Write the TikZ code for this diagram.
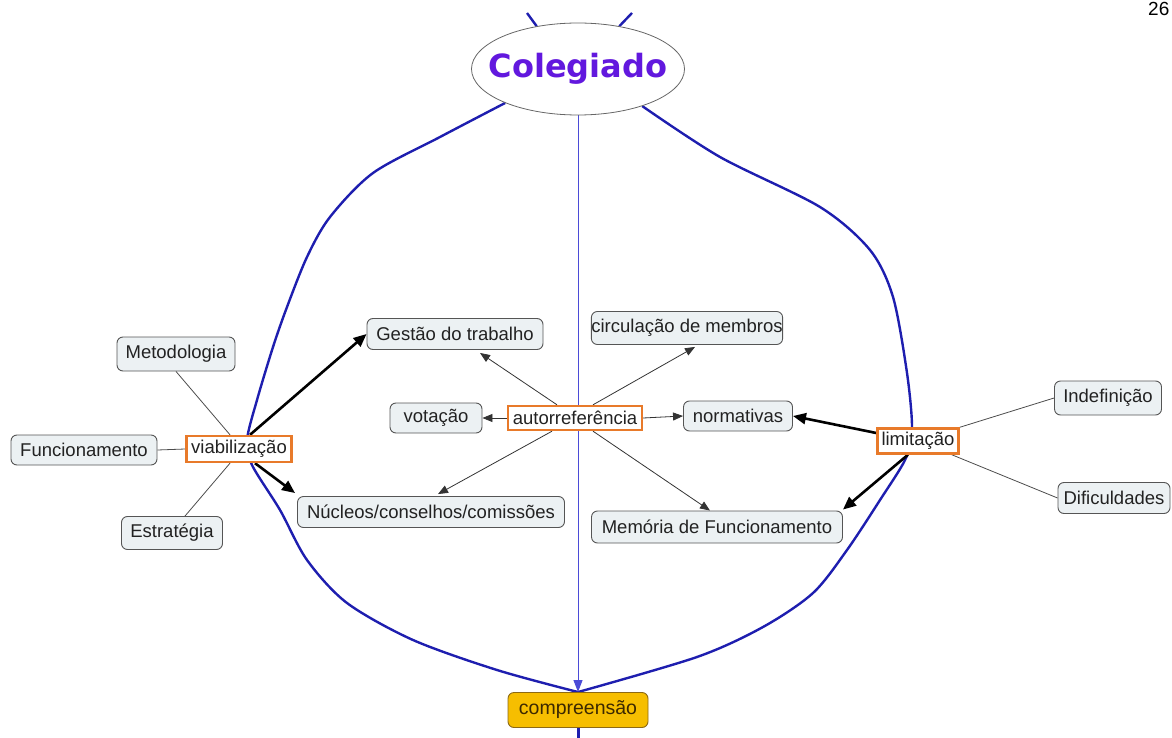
\documentclass[tikz,border=0pt]{standalone}
\usepackage{fontspec}
\setmainfont{Liberation Sans}
\newfontfamily\titlefont{DejaVu Sans}
\usetikzlibrary{arrows.meta,calc,shapes.geometric,backgrounds}

\definecolor{curveblue}{RGB}{30,30,175}
\definecolor{axisblue}{RGB}{75,75,215}
\definecolor{conceptfill}{RGB}{236,241,243}
\definecolor{conceptline}{RGB}{85,85,85}
\definecolor{linkorange}{RGB}{232,122,42}
\definecolor{goldfill}{RGB}{246,190,0}
\definecolor{goldline}{RGB}{140,105,20}
\definecolor{goldtext}{RGB}{60,40,0}
\definecolor{titleviolet}{RGB}{98,24,222}
\definecolor{textdark}{RGB}{34,34,34}

\begin{document}
\begin{tikzpicture}[x=1pt,y=-1pt,
  every node/.style={font=\fontsize{18.5}{22}\selectfont, text=textdark, inner sep=0pt},
  concept/.style={draw=conceptline, fill=conceptfill, line width=0.9pt, rounded corners=6pt},
  linker/.style={draw=linkorange, fill=white, line width=2.4pt},
  plain/.style={draw=black!70, line width=0.8pt},
  thinarrow/.style={draw=black!80, line width=0.8pt, -{Triangle[length=10pt,width=8pt]}},
  boldarrow/.style={draw=black, line width=2.6pt, -{Triangle[length=13pt,width=11pt]}},
  spine/.style={draw=curveblue, line width=2.4pt},
  ]
\useasboundingbox (0,0) rectangle (1172,738);
\clip (0,0) rectangle (1172,738);

% central concept and target
\node[ellipse, draw=black!60, fill=white, line width=0.8pt,
      inner xsep=-15pt, inner ysep=0pt,
      minimum width=213pt, minimum height=92pt,
      font=\titlefont\bfseries\fontsize{32}{36}\selectfont, text=titleviolet]
      (col) at (578,69) {Colegiado};
\node[draw=goldline, fill=goldfill, rounded corners=6pt, line width=0.9pt,
      minimum width=140pt, minimum height=35pt,
      font=\fontsize{19.5}{22}\selectfont, text=goldtext]
      (cmp) at (578,710) {compreensão};

% page number
\node[anchor=base west, font=\fontsize{19}{22}\selectfont, text=black] (pg) at (1148,16) {26};

% linking phrases
\node[linker, minimum width=105pt, minimum height=26pt] (viab) at (239,449) {viabilização};
\node[linker, minimum width=134pt, minimum height=24pt] (auto) at (575,418) {autorreferência};
\node[linker, minimum width=81pt, minimum height=25pt] (lim) at (918,441) {limitação};

% concepts
\node[concept, minimum width=118pt, minimum height=34pt] (met) at (176,354) {Metodologia};
\node[concept, minimum width=146pt, minimum height=30pt] (fun) at (84,450) {Funcionamento};
\node[concept, minimum width=101pt, minimum height=33pt] (est) at (172,533) {Estratégia};
\node[concept, minimum width=176pt, minimum height=31pt] (ges) at (455,334) {Gestão do trabalho};
\node[concept, minimum width=185pt, minimum height=33pt] (circ) at (687,328) {circulação de membros};
\node[concept, minimum width=92pt, minimum height=30pt] (vot) at (436,418) {votação};
\node[concept, minimum width=109pt, minimum height=30pt] (norm) at (738,416) {normativas};
\node[concept, minimum width=267pt, minimum height=31pt] (nuc) at (431,512) {Núcleos/conselhos/comissões};
\node[concept, minimum width=251pt, minimum height=32pt] (mem) at (717,527) {Memória de Funcionamento};
\node[concept, minimum width=107pt, minimum height=34pt] (ind) at (1108,398) {Indefinição};
\node[concept, minimum width=112pt, minimum height=31pt] (dif) at (1114,498) {Dificuldades};

\coordinate (topl) at (527,13);
\coordinate (topr) at (632,13);
\coordinate (bot) at (578,740);

\begin{scope}[on background layer]
  % blue frame from Colegiado to compreensão
  \draw[spine] (topl) -- (col.134);
  \draw[spine] (topr) -- (col.46);
  \draw[spine] plot[smooth] coordinates {(col.205) (440,137) (373,173) (330,217) (307,257)
      (287,307) (273,347) (257,400) (247,440) (252,465) (280,510) (307,560) (347,603)
      (413,640) (497,670) (cmp.north)};
  \draw[spine] plot[smooth] coordinates {(col.-30) (720,157) (820,207) (870,250) (893,297)
      (907,373) (912,428) (906,458) (880,500) (847,550) (813,593) (763,627) (697,657)
      (cmp.north)};
  \draw[draw=axisblue, line width=1pt, -{Triangle[length=12pt,width=9pt]}] (col.south) -- (cmp.north);
  \draw[spine, line width=3pt] (cmp.south) -- (bot);

  % viabilização
  \draw[plain] (met.south) -- ($(viab.north)+(-9,0)$);
  \draw[plain] (fun.east) -- (viab.west);
  \draw[plain] ($(est.north)+(13,0)$) -- ($(viab.south)+(-9,0)$);
  \draw[boldarrow] ($(viab.north)+(11,0)$) -- (ges.west);
  \draw[boldarrow] ($(viab.south)+(16,0)$) -- ($(nuc.north west)+(-2,-3)$);

  % autorreferência
  \draw[thinarrow] ($(auto.north)+(-18,0)$) -- ($(ges.south)+(25,3)$);
  \draw[thinarrow] ($(auto.north)+(18,0)$) -- ($(circ.south)+(8,2)$);
  \draw[thinarrow] (auto.west) -- (vot.east);
  \draw[thinarrow] (auto.east) -- (norm.west);
  \draw[thinarrow] ($(auto.south)+(-23,0)$) -- ($(nuc.north)+(7,-2)$);
  \draw[thinarrow] ($(auto.south)+(18,0)$) -- ($(mem.north)+(-7,0)$);

  % limitação
  \draw[boldarrow] ($(lim.west)+(0,-8)$) -- (norm.east);
  \draw[boldarrow] ($(lim.south)+(-10,0)$) -- ($(mem.north east)+(0,-1)$);
  \draw[plain] (lim.north east) -- (ind.west);
  \draw[plain] ($(lim.south east)+(-8,0)$) -- (dif.west);
\end{scope}
\end{tikzpicture}
\end{document}
